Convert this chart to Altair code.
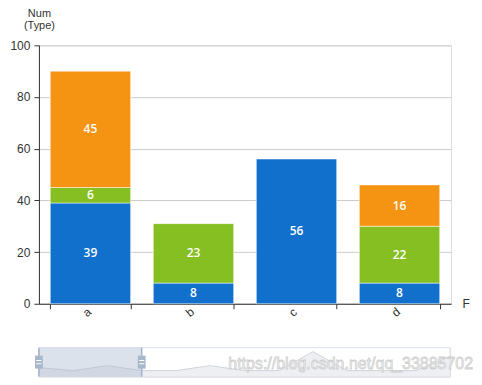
import altair as alt
import pandas as pd

# ---- data ----
categories = ["a", "b", "c", "d"]
series_names = ["S1", "S2", "S3"]
blue_vals = [39, 8, 56, 8]
green_vals = [6, 23, None, 22]
orange_vals = [45, None, None, 16]
series_colors = ["#1070cc", "#86bf21", "#f59312"]

shadow_idx = list(range(13))
shadow_vals = [9, 6, 11, 6, 6, 11, 6, 6, 25, 6, 6, 6, 20]
window_start, window_end = 0, 3
watermark = "https://blog.csdn.net/qq_33885702"

FONT = "Liberation Sans"

rows = []
for si, (name, vals) in enumerate(zip(series_names, [blue_vals, green_vals, orange_vals])):
    for c, v in zip(categories, vals):
        if v is not None:
            rows.append({"cat": c, "series": name, "order": si, "value": v})
df = pd.DataFrame(rows)

base = alt.Chart(df).transform_stack(
    stack="value", groupby=["cat"], as_=["y0", "y1"],
    sort=[alt.SortField("order", order="ascending")]
).transform_calculate(mid="(datum.y0 + datum.y1) / 2")

x_enc = alt.X(
    "cat:N",
    scale=alt.Scale(domain=categories, paddingInner=0.22, paddingOuter=0.11),
    axis=alt.Axis(
        title="F", titleAngle=0, titleAlign="left", titleBaseline="middle",
        titleX=424, titleY=0, titleFontWeight="normal", titleFontSize=12,
        titleColor="#333333", titleFont=FONT,
        labelAngle=-40, labelAlign="center", labelBaseline="middle",
        labelOffset=-4, labelPadding=3,
        labelColor="#333", labelFontSize=12, labelFont=FONT,
        tickBand="extent", tickColor="#333", tickSize=5,
        domainColor="#333", grid=False,
    ),
)

y_axis = alt.Axis(
    title=["Num", "(Type)"], titleAngle=0, titleAlign="center",
    titleBaseline="bottom", titleX=0, titleY=-27, titleFontWeight="normal",
    titleFontSize=11, titleColor="#333", titleFont=FONT, titleLineHeight=12,
    values=[0, 20, 40, 60, 80, 100], labelColor="#333", labelFontSize=12,
    labelFont=FONT, labelPadding=4, tickColor="#333", tickSize=5,
    domainColor="#333", gridColor="#cccccc",
)

bars = base.mark_bar(stroke="white", strokeOpacity=0.5, strokeWidth=1).encode(
    x=x_enc,
    y=alt.Y("y0:Q", scale=alt.Scale(domain=[0, 100]), axis=y_axis),
    y2="y1:Q",
    color=alt.Color("series:N", scale=alt.Scale(domain=series_names, range=series_colors), legend=None),
)

labels = base.mark_text(color="white", fontSize=12, fontWeight=600, font="Open Sans").encode(
    x=alt.X("cat:N", scale=alt.Scale(domain=categories, paddingInner=0.22, paddingOuter=0.11)),
    y=alt.Y("mid:Q", scale=alt.Scale(domain=[0, 100])),
    text="value:Q",
)

main = alt.layer(bars, labels).properties(width=413, height=259)

# ---- slider ----
sdf = pd.DataFrame({"idx": shadow_idx, "val": shadow_vals})
xs = alt.Scale(domain=[0, 12], nice=False, zero=False)
ys = alt.Scale(domain=[0, 29], nice=False)

frame_df = pd.DataFrame({"x0": [0], "x1": [12], "y0": [0], "y1": [29]})
frame = alt.Chart(frame_df).mark_rect(fill="white", stroke="#dde2ea", strokeWidth=1).encode(
    x=alt.X("x0:Q", scale=xs, axis=None), x2="x1:Q",
    y=alt.Y("y0:Q", scale=ys, axis=None), y2="y1:Q",
)

area = alt.Chart(sdf).mark_area(
    color="#e6e8ec", line={"color": "#cfd4db", "strokeWidth": 1}, interpolate="linear"
).encode(
    x=alt.X("idx:Q", scale=xs, axis=None),
    y=alt.Y("val:Q", scale=ys, axis=None),
)

win_df = pd.DataFrame({"x0": [window_start], "x1": [window_end], "y0": [0], "y1": [29]})
window = alt.Chart(win_df).mark_rect(fill="#a7b7cc", fillOpacity=0.4).encode(
    x=alt.X("x0:Q", scale=xs, axis=None), x2="x1:Q",
    y=alt.Y("y0:Q", scale=ys, axis=None), y2="y1:Q",
)

edge_df = pd.DataFrame({"pos": [window_start, window_end], "y0": [0, 0], "y1": [29, 29], "ym": [14.5, 14.5]})
edges = alt.Chart(edge_df).mark_rule(color="#a2b3ca", strokeWidth=1.5).encode(
    x=alt.X("pos:Q", scale=xs, axis=None),
    y=alt.Y("y0:Q", scale=ys, axis=None), y2="y1:Q",
)
handles = alt.Chart(edge_df).mark_point(
    shape="M-0.6,-1H0.6V1H-0.6Z", filled=True, fill="#a7b7cc", opacity=1, size=169
).encode(
    x=alt.X("pos:Q", scale=xs, axis=None),
    y=alt.Y("ym:Q", scale=ys, axis=None),
)
handle_lines = alt.Chart(edge_df).mark_point(
    shape="M-0.4,-0.25H0.4M-0.4,0.25H0.4", filled=False, stroke="white",
    strokeWidth=1, opacity=1, size=169
).encode(
    x=alt.X("pos:Q", scale=xs, axis=None),
    y=alt.Y("ym:Q", scale=ys, axis=None),
)

wm_df = pd.DataFrame({"x": [9.1], "y": [13], "t": [watermark]})
wm = alt.Chart(wm_df).mark_text(
    font=FONT, fontSize=16, fill="#f7f7f7", stroke="#c4c4c4", strokeWidth=0.8,
    strokeOpacity=0.8, align="center", baseline="middle"
).encode(
    x=alt.X("x:Q", scale=xs, axis=None),
    y=alt.Y("y:Q", scale=ys, axis=None),
    text="t:N",
)

slider = alt.layer(frame, area, window, edges, handles, handle_lines, wm).properties(width=412, height=29)

chart = alt.vconcat(main, slider, spacing=26).properties(
    padding={"left": 1, "top": -2, "right": 0, "bottom": 0}
).configure_view(strokeWidth=0).configure(background="white")

chart.save("out.html", embed_options={"renderer": "svg", "actions": False})
